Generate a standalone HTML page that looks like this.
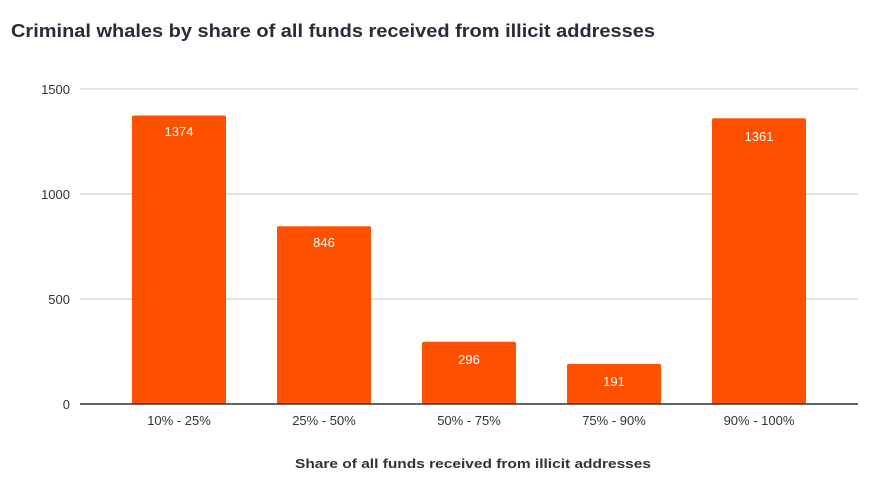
<!DOCTYPE html>
<html><head><style>body{margin:0;background:#fff}</style></head><body>
<svg width="870" height="481" xmlns="http://www.w3.org/2000/svg" font-family="Liberation Sans, sans-serif">
<rect width="870" height="481" fill="#fff"/>
<text x="11" y="37" font-size="18" font-weight="bold" fill="#2b2b3a" textLength="644" lengthAdjust="spacingAndGlyphs">Criminal whales by share of all funds received from illicit addresses</text>
<g stroke="#d9d9d9" stroke-width="1.5">
<line x1="80" y1="89" x2="858" y2="89"/>
<line x1="80" y1="194" x2="858" y2="194"/>
<line x1="80" y1="299" x2="858" y2="299"/>
</g>
<g font-size="13" fill="#333" text-anchor="end">
<text x="70" y="94">1500</text>
<text x="70" y="199">1000</text>
<text x="70" y="304">500</text>
<text x="70" y="409">0</text>
</g>
<g fill="#ff5000">
<rect x="132" y="115.5" width="94" height="288.5" rx="2"/>
<rect x="277" y="226.3" width="94" height="177.7" rx="2"/>
<rect x="422" y="341.8" width="94" height="62.2" rx="2"/>
<rect x="567" y="363.9" width="94" height="40.1" rx="2"/>
<rect x="712" y="118.2" width="94" height="285.8" rx="2"/>
</g>
<line x1="80" y1="404" x2="858" y2="404" stroke="#333" stroke-width="1.5"/>
<g font-size="13" fill="#fff" text-anchor="middle">
<text x="179" y="136">1374</text>
<text x="324" y="247">846</text>
<text x="469" y="364">296</text>
<text x="614" y="386">191</text>
<text x="759" y="141">1361</text>
</g>
<g font-size="13" fill="#333" text-anchor="middle">
<text x="179" y="425">10% - 25%</text>
<text x="324" y="425">25% - 50%</text>
<text x="469" y="425">50% - 75%</text>
<text x="614" y="425">75% - 90%</text>
<text x="759" y="425">90% - 100%</text>
</g>
<text x="295" y="468" font-size="13" font-weight="bold" fill="#333" textLength="356" lengthAdjust="spacingAndGlyphs">Share of all funds received from illicit addresses</text>
</svg>
</body></html>
